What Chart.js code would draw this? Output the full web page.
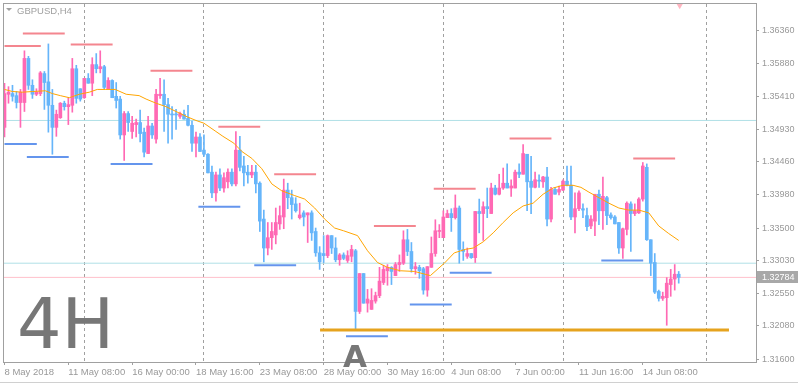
<!DOCTYPE html>
<html>
<head>
<meta charset="utf-8">
<script src="https://cdn.jsdelivr.net/npm/chart.js@4.4.0/dist/chart.umd.min.js"></script>
<style>
  html, body { margin: 0; padding: 0; background: #ffffff; }
  #wrap { width: 798px; height: 384px; }
</style>
</head>
<body>
<div id="wrap"><canvas id="chart" width="798" height="384"></canvas></div>
<script>
// GBPUSD H4 - velas leidas a ojo del grafico original
const symbolTitle = 'GBPUSD,H4';
const frameLabel = '4H';
const pointLabel = 'A';

const opens = [
  1.3496, 1.3544, 1.3545, 1.3542, 1.3532, 1.3532, 1.3596, 1.3557, 1.3544, 1.3545,
  1.3574, 1.3562, 1.3528, 1.3496, 1.3510, 1.3531, 1.3526, 1.3528, 1.3581, 1.3552,
  1.3539, 1.3567, 1.3560, 1.3587, 1.3581, 1.3584, 1.3552, 1.3564, 1.3541, 1.3537,
  1.3485, 1.3516, 1.3490, 1.3500, 1.3503, 1.3489, 1.3458, 1.3498, 1.3479, 1.3542,
  1.3544, 1.3529, 1.3515, 1.3515, 1.3512, 1.3515, 1.3509, 1.3499, 1.3473, 1.3482,
  1.3463, 1.3457, 1.3431, 1.3401, 1.3427, 1.3408, 1.3417, 1.3431, 1.3414, 1.3463,
  1.3440, 1.3431, 1.3427, 1.3431, 1.3415, 1.3363, 1.3321, 1.3336, 1.3340, 1.3356,
  1.3366, 1.3405, 1.3394, 1.3385, 1.3365, 1.3372, 1.3369, 1.3372, 1.3345, 1.3314,
  1.3313, 1.3310, 1.3339, 1.3321, 1.3304, 1.3311, 1.3303, 1.3309, 1.3317, 1.3229,
  1.3284, 1.3241, 1.3232, 1.3244, 1.3252, 1.3271, 1.3288, 1.3293, 1.3281, 1.3297,
  1.3299, 1.3333, 1.3316, 1.3291, 1.3293, 1.3291, 1.3260, 1.3293, 1.3313, 1.3345,
  1.3336, 1.3365, 1.3371, 1.3365, 1.3379, 1.3319, 1.3309, 1.3313, 1.3307, 1.3374,
  1.3371, 1.3381, 1.3371, 1.3408, 1.3399, 1.3408, 1.3415, 1.3408, 1.3408, 1.3431,
  1.3428, 1.3457, 1.3418, 1.3409, 1.3419, 1.3417, 1.3424, 1.3363, 1.3406, 1.3402,
  1.3405, 1.3418, 1.3412, 1.3366, 1.3378, 1.3378, 1.3368, 1.3353, 1.3360, 1.3399,
  1.3375, 1.3394, 1.3369, 1.3366, 1.3358, 1.3321, 1.3348, 1.3385, 1.3371, 1.3372,
  1.3392, 1.3438, 1.3333, 1.3300, 1.3258, 1.3248, 1.3249, 1.3268, 1.3276, 1.3283
];
const highs = [
  1.3560, 1.3555, 1.3557, 1.3548, 1.3551, 1.3607, 1.3599, 1.3565, 1.3552, 1.3577,
  1.3577, 1.3617, 1.3551, 1.3521, 1.3532, 1.3534, 1.3539, 1.3596, 1.3586, 1.3552,
  1.3567, 1.3574, 1.3597, 1.3603, 1.3607, 1.3586, 1.3568, 1.3565, 1.3561, 1.3541,
  1.3519, 1.3519, 1.3512, 1.3508, 1.3521, 1.3495, 1.3512, 1.3502, 1.3551, 1.3567,
  1.3565, 1.3538, 1.3526, 1.3522, 1.3518, 1.3521, 1.3528, 1.3505, 1.3489, 1.3487,
  1.3485, 1.3458, 1.3440, 1.3431, 1.3436, 1.3430, 1.3436, 1.3436, 1.3490, 1.3483,
  1.3454, 1.3441, 1.3441, 1.3441, 1.3417, 1.3376, 1.3358, 1.3358, 1.3379, 1.3382,
  1.3421, 1.3415, 1.3405, 1.3394, 1.3386, 1.3375, 1.3372, 1.3375, 1.3350, 1.3323,
  1.3339, 1.3340, 1.3339, 1.3336, 1.3313, 1.3314, 1.3317, 1.3325, 1.3319, 1.3284,
  1.3284, 1.3261, 1.3262, 1.3257, 1.3293, 1.3296, 1.3297, 1.3294, 1.3300, 1.3311,
  1.3346, 1.3348, 1.3329, 1.3300, 1.3296, 1.3293, 1.3294, 1.3337, 1.3362, 1.3355,
  1.3375, 1.3376, 1.3378, 1.3398, 1.3382, 1.3330, 1.3321, 1.3313, 1.3374, 1.3392,
  1.3388, 1.3408, 1.3415, 1.3412, 1.3428, 1.3437, 1.3443, 1.3420, 1.3434, 1.3443,
  1.3471, 1.3457, 1.3454, 1.3431, 1.3427, 1.3425, 1.3438, 1.3409, 1.3409, 1.3411,
  1.3420, 1.3440, 1.3440, 1.3401, 1.3404, 1.3385, 1.3379, 1.3368, 1.3399, 1.3405,
  1.3424, 1.3396, 1.3372, 1.3368, 1.3358, 1.3350, 1.3388, 1.3388, 1.3385, 1.3394,
  1.3445, 1.3443, 1.3333, 1.3313, 1.3260, 1.3257, 1.3278, 1.3290, 1.3297, 1.3287
];
const lows = [
  1.3482, 1.3531, 1.3534, 1.3524, 1.3496, 1.3519, 1.3551, 1.3538, 1.3542, 1.3542,
  1.3522, 1.3489, 1.3457, 1.3483, 1.3509, 1.3521, 1.3500, 1.3518, 1.3531, 1.3534,
  1.3538, 1.3560, 1.3542, 1.3575, 1.3575, 1.3552, 1.3552, 1.3539, 1.3524, 1.3479,
  1.3448, 1.3490, 1.3480, 1.3482, 1.3475, 1.3453, 1.3458, 1.3480, 1.3473, 1.3538,
  1.3490, 1.3473, 1.3479, 1.3493, 1.3509, 1.3508, 1.3498, 1.3461, 1.3453, 1.3461,
  1.3454, 1.3430, 1.3394, 1.3389, 1.3404, 1.3402, 1.3408, 1.3411, 1.3411, 1.3433,
  1.3411, 1.3415, 1.3423, 1.3401, 1.3345, 1.3301, 1.3311, 1.3319, 1.3327, 1.3348,
  1.3349, 1.3378, 1.3363, 1.3373, 1.3363, 1.3353, 1.3329, 1.3332, 1.3309, 1.3290,
  1.3300, 1.3307, 1.3313, 1.3301, 1.3296, 1.3304, 1.3300, 1.3301, 1.3203, 1.3226,
  1.3241, 1.3228, 1.3232, 1.3241, 1.3249, 1.3268, 1.3267, 1.3268, 1.3281, 1.3287,
  1.3297, 1.3310, 1.3286, 1.3283, 1.3277, 1.3254, 1.3251, 1.3293, 1.3309, 1.3336,
  1.3336, 1.3365, 1.3345, 1.3363, 1.3299, 1.3303, 1.3306, 1.3306, 1.3300, 1.3343,
  1.3332, 1.3365, 1.3371, 1.3398, 1.3398, 1.3406, 1.3408, 1.3396, 1.3408, 1.3423,
  1.3428, 1.3375, 1.3371, 1.3408, 1.3409, 1.3409, 1.3353, 1.3359, 1.3399, 1.3398,
  1.3404, 1.3411, 1.3362, 1.3343, 1.3375, 1.3365, 1.3346, 1.3349, 1.3339, 1.3355,
  1.3348, 1.3355, 1.3363, 1.3356, 1.3313, 1.3306, 1.3340, 1.3316, 1.3368, 1.3371,
  1.3389, 1.3332, 1.3281, 1.3255, 1.3244, 1.3245, 1.3209, 1.3251, 1.3260, 1.3270
];
const closes = [
  1.3545, 1.3547, 1.3541, 1.3532, 1.3547, 1.3596, 1.3557, 1.3544, 1.3547, 1.3575,
  1.3561, 1.3528, 1.3496, 1.3515, 1.3531, 1.3526, 1.3529, 1.3581, 1.3538, 1.3537,
  1.3567, 1.3560, 1.3587, 1.3581, 1.3584, 1.3554, 1.3564, 1.3539, 1.3535, 1.3485,
  1.3516, 1.3503, 1.3502, 1.3503, 1.3487, 1.3460, 1.3498, 1.3485, 1.3544, 1.3544,
  1.3529, 1.3515, 1.3514, 1.3514, 1.3516, 1.3508, 1.3499, 1.3473, 1.3482, 1.3461,
  1.3457, 1.3430, 1.3401, 1.3427, 1.3408, 1.3423, 1.3431, 1.3414, 1.3463, 1.3438,
  1.3430, 1.3427, 1.3431, 1.3414, 1.3360, 1.3321, 1.3336, 1.3345, 1.3358, 1.3368,
  1.3405, 1.3394, 1.3384, 1.3375, 1.3369, 1.3366, 1.3372, 1.3343, 1.3314, 1.3301,
  1.3310, 1.3339, 1.3321, 1.3304, 1.3311, 1.3306, 1.3310, 1.3319, 1.3229, 1.3284,
  1.3241, 1.3247, 1.3245, 1.3252, 1.3273, 1.3290, 1.3293, 1.3287, 1.3297, 1.3300,
  1.3333, 1.3316, 1.3291, 1.3294, 1.3288, 1.3260, 1.3294, 1.3313, 1.3346, 1.3346,
  1.3366, 1.3371, 1.3365, 1.3379, 1.3319, 1.3316, 1.3313, 1.3307, 1.3374, 1.3371,
  1.3381, 1.3378, 1.3408, 1.3399, 1.3408, 1.3415, 1.3408, 1.3411, 1.3431, 1.3428,
  1.3458, 1.3417, 1.3409, 1.3420, 1.3418, 1.3424, 1.3363, 1.3406, 1.3399, 1.3406,
  1.3418, 1.3412, 1.3366, 1.3378, 1.3401, 1.3376, 1.3352, 1.3363, 1.3399, 1.3375,
  1.3396, 1.3368, 1.3365, 1.3356, 1.3321, 1.3349, 1.3386, 1.3371, 1.3375, 1.3392,
  1.3440, 1.3333, 1.3299, 1.3257, 1.3248, 1.3251, 1.3270, 1.3276, 1.3283, 1.32784
];

// media movil (puntos leidos sobre la curva naranja)
const maBars = [0, 2, 4.5, 7, 10.25, 12, 14, 16.25, 18.75, 21.25, 23.25, 25.25, 27.75, 30.5, 33.75,
  35.5, 38, 40.5, 43, 45.5, 48, 50, 53, 54.75, 57.5, 59.5, 62, 64.5, 67, 69.5, 72.75, 75.25,
  77.75, 80.25, 82.75, 85, 88.5, 91, 93.5, 96, 99.25, 102.75, 106.75, 110.25, 112.75, 115.5,
  117.5, 120, 122.5, 125, 127.5, 130, 132.5, 135, 137.5, 140, 142.5, 144.5, 146.5, 149, 151.5,
  154, 156.5, 159, 161.5, 164, 166.5, 169];
const maValues = [1.3551, 1.3548, 1.3547, 1.3548, 1.3549, 1.3545, 1.3542, 1.3539, 1.3544, 1.3547,
  1.3551, 1.3551, 1.3551, 1.3544, 1.3542, 1.3537, 1.3531, 1.3526, 1.3519, 1.3512, 1.3506, 1.3502,
  1.3490, 1.3483, 1.3473, 1.3461, 1.3451, 1.3436, 1.3414, 1.3404, 1.3397, 1.3392, 1.3379, 1.3363,
  1.3350, 1.3346, 1.3339, 1.3317, 1.3300, 1.3293, 1.3288, 1.3287, 1.3281, 1.3299, 1.3314, 1.3319,
  1.3321, 1.3330, 1.3343, 1.3358, 1.3372, 1.3382, 1.3386, 1.3399, 1.3408, 1.3412, 1.3412, 1.3409,
  1.3402, 1.3394, 1.3386, 1.3379, 1.3376, 1.3376, 1.3372, 1.3353, 1.3342, 1.3332];

// niveles dibujados (resistencias rojas, soportes azules)
const resistLevels = [1.3614, 1.3632, 1.3616, 1.3578, 1.3497, 1.3428, 1.3353, 1.3407, 1.3480, 1.3451];
const resistFrom = [0, 4.6, 16.6, 36.6, 53.6, 67.6, 92.6, 107.6, 126.6, 157.6];
const resistTo = [9.1, 15.1, 27.1, 47.1, 64.1, 78.1, 103.1, 118.1, 137.1, 168.1];
const supportLevels = [1.3472, 1.3453, 1.3443, 1.3381, 1.3296, 1.3193, 1.3239, 1.3285, 1.3303];
const supportFrom = [0, 5.6, 26.6, 48.6, 62.6, 85.6, 101.6, 111.6, 149.6];
const supportTo = [8.1, 16.1, 37.1, 59.1, 73.1, 96.1, 112.1, 122.1, 160.1];
const baseLevel = 1.3202;
const baseFrom = 79.1;
const baseTo = 181.6;
const cyanLevels = [1.3506, 1.3299];
const bidPrice = 1.32784;
const arrowBar = 169.25;
const arrowPrice = 1.3673;

// separadores de semana y etiquetas del eje
const separatorBars = [20, 50, 80, 110, 140, 176];
const tickBars = [0, 16, 32, 48, 64, 80, 96, 112, 128, 144, 160];
const tickLabels = ['8 May 2018', '11 May 08:00', '16 May 00:00', '18 May 16:00', '23 May 08:00',
  '28 May 00:00', '30 May 16:00', '4 Jun 08:00', '7 Jun 00:00', '11 Jun 16:00', '14 Jun 08:00'];
const priceTicks = [1.3636, 1.3588, 1.3541, 1.3493, 1.3446, 1.3398, 1.3350, 1.3303, 1.3255, 1.3208, 1.3160];

const bullColor = '#ff69b4';
const bearColor = '#66b5fa';
const axisColor = '#a0a0a0';
const textColor = '#999999';
const fontFamily = '"Liberation Sans", Arial, sans-serif';

const candleColors = opens.map((o, i) => closes[i] >= o ? bullColor : bearColor);
const wickData = opens.map((o, i) => ({ x: i, y: [lows[i], highs[i]] }));
const bodyData = opens.map((o, i) => ({ x: i, y: [o, closes[i]] }));
const maData = maBars.map((b, i) => ({ x: b, y: maValues[i] }));

function levelSet(levels, from, to, color, width) {
    return levels.map((v, i) => ({
        type: 'line',
        data: [{ x: from[i], y: v }, { x: to[i], y: v }],
        borderColor: color,
        borderWidth: width,
        pointRadius: 0,
        order: 0
    }));
}

const datasets = [
    ...levelSet(cyanLevels, [-0.125, -0.125], [188.375, 188.375], '#b0e0e6', 1).map(d => ({ ...d, order: 5 })),
    ...levelSet([bidPrice], [-0.125], [188.375], '#ffc0cb', 1).map(d => ({ ...d, order: 5 })),
    {
        type: 'bar',
        data: wickData,
        backgroundColor: candleColors,
        barThickness: 1,
        grouped: false,
        order: 3
    },
    {
        type: 'bar',
        data: bodyData,
        backgroundColor: candleColors,
        barThickness: 3,
        minBarLength: 1,
        grouped: false,
        order: 2
    },
    {
        type: 'line',
        data: maData,
        borderColor: '#ffa500',
        borderWidth: 1,
        pointRadius: 0,
        tension: 0,
        order: 1
    },
    ...levelSet(resistLevels, resistFrom, resistTo, '#f4868f', 2),
    ...levelSet(supportLevels, supportFrom, supportTo, '#6495ed', 2),
    ...levelSet([baseLevel], [baseFrom], [baseTo], '#e6a31e', 3),
    {
        type: 'scatter',
        data: [{ x: arrowBar, y: arrowPrice }],
        pointStyle: 'triangle',
        rotation: 180,
        pointRadius: 4,
        backgroundColor: '#ffb6c1',
        borderWidth: 0,
        clip: false,
        order: 0
    }
];

// separadores, marco y textos
const overlayPlugin = {
    id: 'overlay',
    beforeDatasetsDraw(chart) {
        const { ctx, chartArea, scales } = chart;
        ctx.save();
        ctx.strokeStyle = axisColor;
        ctx.lineWidth = 1;
        ctx.setLineDash([3, 3]);
        separatorBars.forEach(b => {
            const x = Math.floor(scales.x.getPixelForValue(b)) + 0.5;
            ctx.beginPath();
            ctx.moveTo(x, chartArea.top);
            ctx.lineTo(x, chartArea.bottom);
            ctx.stroke();
        });
        ctx.restore();
    },
    afterDraw(chart) {
        const { ctx, chartArea, scales } = chart;
        ctx.save();
        // marco
        ctx.strokeStyle = axisColor;
        ctx.lineWidth = 1;
        ctx.strokeRect(chartArea.left - 0.5, chartArea.top - 0.5,
            chartArea.right - chartArea.left + 1, chartArea.bottom - chartArea.top + 1);
        ctx.strokeStyle = '#d0d0d0';
        ctx.beginPath();
        ctx.moveTo(0, 382.5);
        ctx.lineTo(chart.width, 382.5);
        ctx.stroke();

        // titulo
        ctx.fillStyle = axisColor;
        ctx.beginPath();
        ctx.moveTo(6, 8);
        ctx.lineTo(12, 8);
        ctx.lineTo(9, 11);
        ctx.closePath();
        ctx.fill();
        ctx.font = '9.5px ' + fontFamily;
        ctx.textBaseline = 'alphabetic';
        ctx.fillText(symbolTitle, 17, 14);

        // textos grandes
        ctx.fillStyle = '#777777';
        ctx.font = '70px "DejaVu Sans"';
        ctx.fillText(frameLabel, 17, 348);
        ctx.font = 'bold 31px "DejaVu Sans"';
        ctx.fillText(pointLabel, 343, 367);

        // etiqueta del precio actual
        const y = scales.y.getPixelForValue(bidPrice);
        ctx.fillStyle = '#a8a8a8';
        ctx.fillRect(chartArea.right + 1, Math.round(y) - 6, chart.width - chartArea.right - 1, 12);
        ctx.fillStyle = '#ffffff';
        ctx.font = '9px ' + fontFamily;
        ctx.textBaseline = 'middle';
        ctx.fillText(bidPrice.toFixed(5), chartArea.right + 6, Math.round(y) + 0.5);
        ctx.restore();
    }
};

new Chart(document.getElementById('chart'), {
    type: 'bar',
    data: { datasets: datasets },
    options: {
        responsive: false,
        animation: false,
        devicePixelRatio: 1,
        events: [],
        layout: { padding: { left: 2, top: 2, right: 0, bottom: 0 } },
        plugins: { legend: { display: false }, tooltip: { enabled: false } },
        scales: {
            x: {
                type: 'linear',
                min: -0.125,
                max: 188.375,
                offset: false,
                afterBuildTicks: axis => { axis.ticks = tickBars.map(v => ({ value: v })); },
                afterFit: axis => { axis.height = 22; axis.paddingLeft = 0; axis.paddingRight = 0; },
                grid: { display: true, drawOnChartArea: false, drawTicks: true, tickLength: 3, color: axisColor, offset: false },
                border: { display: true, color: axisColor },
                ticks: {
                    align: 'start',
                    maxRotation: 0,
                    autoSkip: false,
                    padding: 2,
                    color: textColor,
                    font: { family: fontFamily, size: 9.5 },
                    callback: (v, i) => tickLabels[i]
                }
            },
            y: {
                position: 'right',
                min: 1.31557,
                max: 1.36749,
                afterBuildTicks: axis => { axis.ticks = priceTicks.map(v => ({ value: v })); },
                afterFit: axis => { axis.width = 42; axis.paddingTop = 0; axis.paddingBottom = 0; },
                grid: { display: true, drawOnChartArea: false, drawTicks: true, tickLength: 3, color: axisColor },
                border: { display: true, color: axisColor },
                ticks: {
                    padding: 3,
                    color: textColor,
                    font: { family: fontFamily, size: 9 },
                    callback: v => v.toFixed(5)
                }
            }
        }
    },
    plugins: [overlayPlugin]
});
</script>
</body>
</html>
